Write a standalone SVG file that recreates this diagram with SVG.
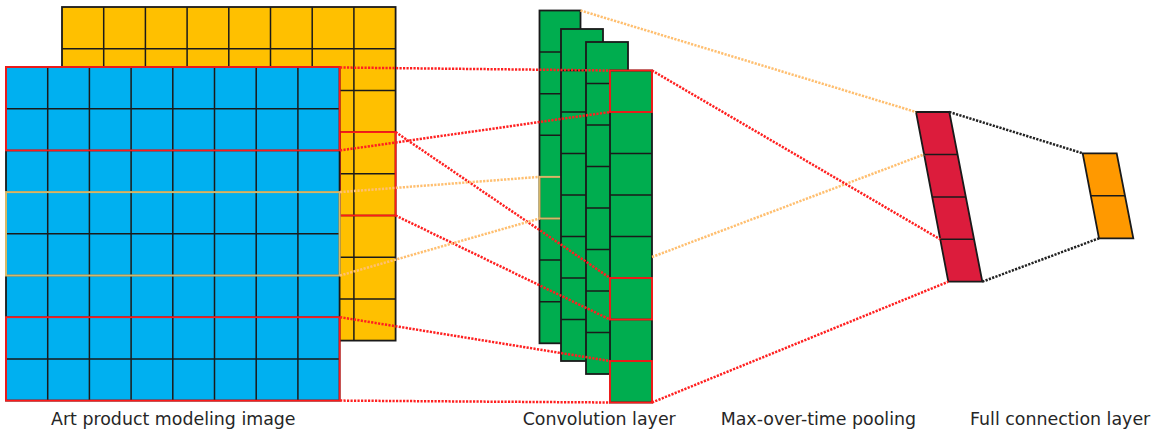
<svg xmlns="http://www.w3.org/2000/svg" width="1159" height="430" viewBox="0 0 1159 430">
<style>
.grid{stroke:#1a1a1a;stroke-width:1.5;fill:none}
.frame{stroke:#1a1a1a;stroke-width:1.8}
.hl-red{fill:none;stroke:#ff1a1a;stroke-width:1.8}
.hl-tan{fill:none;stroke:#d6b768;stroke-width:2}
.dot{fill:none;stroke-width:2.5;stroke-dasharray:2.2 1.3}
.r{stroke:#ff2020}
.o{stroke:#ffbf70}
.k{stroke:#222}
.lbl{font-family:"DejaVu Sans","Verdana",sans-serif;font-size:17.4px;fill:#262626}
</style>
<rect width="1159" height="430" fill="#fff"/>

<g id="input-yellow">
<rect x="62" y="7" width="333.6" height="333.6" fill="#ffc000" class="frame"/>
<path class="grid" d="M103.7 7V340.6M145.4 7V340.6M187.1 7V340.6M228.8 7V340.6M270.5 7V340.6M312.2 7V340.6M353.9 7V340.6M62 48.7H395.6M62 90.4H395.6M62 132.1H395.6M62 173.8H395.6M62 215.5H395.6M62 257.2H395.6M62 298.9H395.6"/>
<rect x="340" y="132.1" width="55.6" height="83.4" class="hl-red"/>
</g>

<g id="input-blue">
<rect x="6" y="67" width="333.6" height="333.6" fill="#00b0f0" class="frame"/>
<path class="grid" d="M47.7 67V400.6M89.4 67V400.6M131.1 67V400.6M172.8 67V400.6M214.5 67V400.6M256.2 67V400.6M297.9 67V400.6M6 108.7H339.6M6 150.4H339.6M6 192.1H339.6M6 233.8H339.6M6 275.5H339.6M6 317.2H339.6M6 358.9H339.6"/>
<rect x="6" y="192.1" width="333.6" height="83.4" class="hl-tan"/>
<rect x="6" y="67" width="333.6" height="83.4" class="hl-red"/>
<rect x="6" y="317.2" width="333.6" height="83.4" class="hl-red"/>
</g>

<g id="conv-1">
<rect x="539.5" y="10.5" width="41" height="332.8" fill="#00ad4f" class="frame"/>
<path class="grid" d="M539.5 52.1H580.5M539.5 93.7H580.5M539.5 135.3H580.5M539.5 176.9H580.5M539.5 218.5H580.5M539.5 260.1H580.5M539.5 301.7H580.5"/>
<rect x="539.5" y="176.9" width="21.5" height="41.6" class="hl-tan"/>
</g>
<g id="conv-2">
<rect x="561" y="29" width="42" height="332" fill="#00ad4f" class="frame"/>
<path class="grid" d="M561 70.5H603M561 112H603M561 153.5H603M561 195H603M561 236.5H603M561 278H603M561 319.5H603"/>
</g>
<g id="conv-3">
<rect x="586" y="42" width="42" height="332" fill="#00ad4f" class="frame"/>
<path class="grid" d="M586 83.5H628M586 125H628M586 166.5H628M586 208H628M586 249.5H628M586 291H628M586 332.5H628"/>
</g>
<g id="conv-4">
<rect x="610" y="70.5" width="42" height="332" fill="#00ad4f" class="frame"/>
<path class="grid" d="M610 112H652M610 153.5H652M610 195H652M610 236.5H652M610 278H652M610 319.5H652M610 361H652"/>
<rect x="610" y="70.5" width="42" height="41.5" class="hl-red"/>
<rect x="610" y="278" width="42" height="41.5" class="hl-red"/>
<rect x="610" y="361" width="42" height="41.5" class="hl-red"/>
</g>

<g id="pooling">
<polygon points="916,112 949.3,112 982.3,281.7 948.3,281.7" fill="#dc1c3c" class="frame"/>
<path class="grid" d="M924.1 154.4H957.4M932.1 196.9H965.5M940.2 239.3H973.6"/>
</g>

<g id="full-connection">
<polygon points="1082.7,153.3 1116.7,153.3 1133.3,238.3 1099,238.3" fill="#ff9900" class="frame"/>
<path class="grid" d="M1091 195.8H1125"/>
</g>

<g id="connectors">
<line class="dot r" x1="340" y1="67.5" x2="610" y2="70.5"/>
<line class="dot r" x1="340" y1="150.4" x2="610" y2="112"/>
<line class="dot r" x1="395.6" y1="132.1" x2="610" y2="278"/>
<line class="dot r" x1="395.6" y1="215.5" x2="610" y2="319.5"/>
<line class="dot r" x1="340" y1="317.2" x2="610" y2="361"/>
<line class="dot r" x1="340" y1="400.6" x2="610" y2="402.5"/>
<line class="dot o" x1="340" y1="192.1" x2="539.5" y2="176.9"/>
<line class="dot o" x1="340" y1="275.5" x2="539.5" y2="218.5"/>
<line class="dot o" x1="580.5" y1="10.5" x2="916" y2="112"/>
<line class="dot o" x1="652" y1="257" x2="924.1" y2="154.4"/>
<line class="dot r" x1="652" y1="70.5" x2="940.2" y2="239.3"/>
<line class="dot r" x1="652" y1="402.5" x2="948.3" y2="281.7"/>
<line class="dot k" x1="949.3" y1="112" x2="1082.7" y2="153.3"/>
<line class="dot k" x1="982.3" y1="281.7" x2="1099" y2="238.3"/>
</g>

<g id="labels">
<text class="lbl" x="51" y="425">Art product modeling image</text>
<text class="lbl" x="522.7" y="425">Convolution layer</text>
<text class="lbl" x="720.7" y="425">Max-over-time pooling</text>
<text class="lbl" x="970" y="425">Full connection layer</text>
</g>
</svg>
